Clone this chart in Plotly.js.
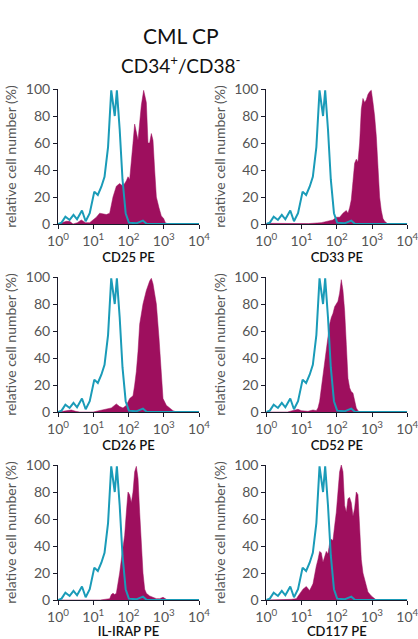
<!DOCTYPE html>
<html>
<head>
<meta charset="utf-8">
<script src="https://cdn.plot.ly/plotly-3.0.1.min.js"></script>
<style>html,body{margin:0;padding:0;background:#fff;}#chart{width:418px;height:639px;}</style>
</head>
<body>
<div id="chart"></div>
<script>
// Fluorescence intensity given as log10 exponents (decades)
var tickVals = [1, 10, 100, 1000, 10000];
var tickText = ["10<sup>0</sup>", "10<sup>1</sup>", "10<sup>2</sup>", "10<sup>3</sup>", "10<sup>4</sup>"];
var yTickVals = [0, 20, 40, 60, 80, 100];
var markers = ["CD25 PE", "CD33 PE", "CD26 PE", "CD52 PE", "IL-IRAP PE", "CD117 PE"];

// isotype control (blue line), same in every panel
var ctrlLog = [0, 0.10, 0.21, 0.33, 0.44, 0.54, 0.68, 0.785, 0.90, 1.03, 1.13, 1.23, 1.32, 1.42, 1.51, 1.61, 1.67, 1.75, 1.83, 1.92, 2.01, 2.22, 2.41, 2.52, 2.7, 4.0];
var ctrlVal = [0, 1, 5.4, 3, 6.7, 3.5, 10, 2, 8, 24, 21.5, 27.6, 35, 57, 99, 80, 99, 70, 33, 8, 1, 0.5, 2.5, 0, 0, 0];

// stained samples (magenta fill)
var cd25Log = [0, 0.236, 0.331, 0.426, 0.55, 0.662, 0.78, 0.898, 1.087, 1.182, 1.371, 1.466, 1.560, 1.655, 1.749, 1.844, 1.939, 1.986, 2.033, 2.080, 2.128, 2.175, 2.222, 2.270, 2.317, 2.364, 2.430, 2.506, 2.553, 2.600, 2.648, 2.695, 2.742, 2.790, 2.865, 2.931, 2.998, 3.045, 3.121, 4.0];
var cd25Val = [0, 2, 2, 0, 1, 3, 1, 1, 5, 8, 7, 8, 20, 28, 30, 28, 32, 35, 33, 50, 60, 74, 68, 62, 75, 88, 99, 90, 60, 60, 67, 62, 40, 20, 12, 6, 4, 1, 0, 0];

var cd33Log = [0, 0.5, 1.2, 1.560, 1.749, 1.891, 1.986, 2.080, 2.175, 2.270, 2.317, 2.364, 2.411, 2.459, 2.506, 2.553, 2.600, 2.648, 2.695, 2.742, 2.790, 2.837, 2.884, 2.931, 2.979, 3.026, 3.073, 3.121, 3.168, 3.215, 3.262, 3.310, 3.357, 3.452, 4.0];
var cd33Val = [0.5, 0.5, 0.3, 1, 2, 3, 5, 5, 8, 10, 8, 12, 18, 30, 45, 48, 46, 60, 85, 93, 90, 92, 96, 98, 99, 90, 80, 65, 45, 20, 10, 4, 2, 0, 0];

var cd26Log = [0, 0.30, 0.378, 0.50, 0.615, 1.0, 1.182, 1.371, 1.513, 1.655, 1.749, 1.844, 1.939, 2.033, 2.128, 2.175, 2.222, 2.270, 2.317, 2.411, 2.506, 2.600, 2.648, 2.695, 2.790, 2.865, 2.931, 2.979, 3.073, 3.168, 3.262, 3.357, 4.0];
var cd26Val = [0, 1.5, 1.5, 0.5, 0, 0, 1, 2, 3, 6, 4, 3, 5, 10, 12, 20, 30, 45, 65, 80, 90, 97, 99, 95, 80, 55, 25, 10, 5, 3, 1, 0, 0];

var cd52Log = [0, 0.6, 0.898, 0.993, 1.182, 1.324, 1.418, 1.466, 1.513, 1.560, 1.608, 1.655, 1.702, 1.749, 1.797, 1.844, 1.891, 1.939, 1.986, 2.033, 2.080, 2.128, 2.175, 2.222, 2.270, 2.317, 2.364, 2.411, 2.459, 2.506, 2.553, 2.600, 2.648, 4.0];
var cd52Val = [0, 0, 2, 1, 0.5, 1.5, 1, 3, 8, 18, 28, 35, 45, 55, 65, 70, 73, 78, 80, 82, 88, 98, 90, 75, 50, 25, 18, 15, 14, 8, 3, 1, 0, 0];

var ilrapLog = [0, 1.2, 1.466, 1.513, 1.560, 1.608, 1.655, 1.702, 1.749, 1.797, 1.844, 1.891, 1.939, 1.986, 2.033, 2.080, 2.128, 2.175, 2.222, 2.270, 2.317, 2.364, 2.411, 2.459, 2.506, 2.600, 2.695, 2.790, 2.884, 2.979, 3.073, 3.121, 4.0];
var ilrapVal = [0, 0, 1, 4, 5, 4, 5, 12, 20, 30, 38, 48, 65, 80, 78, 72, 80, 95, 99, 90, 65, 40, 20, 8, 5, 3, 2, 1, 1, 2, 0.5, 0, 0];

var cd117Log = [0, 0.5, 0.709, 0.851, 0.946, 1.040, 1.135, 1.229, 1.324, 1.371, 1.418, 1.466, 1.513, 1.560, 1.608, 1.655, 1.702, 1.749, 1.797, 1.844, 1.891, 1.939, 1.986, 2.033, 2.080, 2.128, 2.175, 2.222, 2.270, 2.317, 2.364, 2.411, 2.459, 2.506, 2.553, 2.600, 2.648, 2.695, 2.742, 2.790, 2.837, 2.884, 2.979, 3.026, 3.121, 4.0];
var cd117Val = [0, 0, 0.5, 1, 5, 8, 10, 7, 12, 20, 25, 30, 36, 35, 28, 32, 36, 34, 42, 45, 44, 55, 65, 80, 95, 100, 95, 70, 65, 75, 76, 72, 62, 68, 80, 78, 50, 30, 20, 15, 10, 6, 3, 2, 0, 0];

var samplesLog = [cd25Log, cd33Log, cd26Log, cd52Log, ilrapLog, cd117Log];
var samplesVal = [cd25Val, cd33Val, cd26Val, cd52Val, ilrapVal, cd117Val];

var W = 418, H = 639;
var colX = [[58, 199], [266.3, 407.3]];
var rowY = [[89, 224], [277, 412], [465, 600]];
var magenta = "#9e0f5e", teal = "#1a9bb8";
var fontFam = "Lato, 'Open Sans', sans-serif";

function toLin(arr) { return arr.map(function (v) { return Math.pow(10, v); }); }

var data = [], layout = {
  width: W, height: H,
  margin: {l: 0, r: 0, t: 0, b: 0},
  paper_bgcolor: "#fff", plot_bgcolor: "#fff",
  showlegend: false,
  font: {family: fontFam, color: "#333"},
  annotations: [
    {text: "CML CP", x: 181 / W, y: 1 - 21 / H, xref: "paper", yref: "paper", showarrow: false, font: {size: 21, color: "#111", family: fontFam}},
    {text: "CD34<sup>+</sup>/CD38<sup>-</sup>", x: 181 / W, y: 1 - 50 / H, xref: "paper", yref: "paper", showarrow: false, font: {size: 19, color: "#111", family: fontFam}}
  ]
};

for (var i = 0; i < 6; i++) {
  var c = i % 2, r = Math.floor(i / 2);
  var n = i + 1, sfx = n === 1 ? "" : String(n);
  data.push({
    x: toLin(samplesLog[i]), y: samplesVal[i], type: "scatter", mode: "lines",
    fill: "tozeroy", fillcolor: magenta, line: {color: magenta, width: 0.5},
    xaxis: "x" + sfx, yaxis: "y" + sfx, hoverinfo: "skip"
  });
  data.push({
    x: toLin(ctrlLog), y: ctrlVal, type: "scatter", mode: "lines",
    line: {color: teal, width: 2}, xaxis: "x" + sfx, yaxis: "y" + sfx, hoverinfo: "skip"
  });
  layout["xaxis" + sfx] = {
    type: "log", range: [0, 4], domain: [colX[c][0] / W, colX[c][1] / W],
    anchor: "y" + sfx, showgrid: false, zeroline: false,
    showline: true, linecolor: "#1a1a2a", linewidth: 1,
    ticks: "outside", ticklen: 4, tickcolor: "#1a1a2a",
    tickmode: "array", tickvals: tickVals, ticktext: tickText,
    ticklabeloverflow: "allow",
    tickfont: {size: 14, color: "#555", family: fontFam},
    title: {text: markers[i], standoff: 3, font: {size: 13, color: "#111", family: fontFam, weight: 600}}
  };
  layout["yaxis" + sfx] = {
    range: [0, 100], domain: [1 - rowY[r][1] / H, 1 - rowY[r][0] / H],
    anchor: "x" + sfx, showgrid: false, zeroline: false,
    showline: true, linecolor: "#1a1a2a", linewidth: 1,
    ticks: "outside", ticklen: 4, tickcolor: "#1a1a2a",
    tickmode: "array", tickvals: yTickVals,
    tickfont: {size: 14, color: "#555", family: fontFam},
    title: {text: "relative cell number (%)", standoff: 5, font: {size: 14, color: "#555", family: fontFam}}
  };
}

Plotly.newPlot("chart", data, layout, {staticPlot: true});
</script>
</body>
</html>
